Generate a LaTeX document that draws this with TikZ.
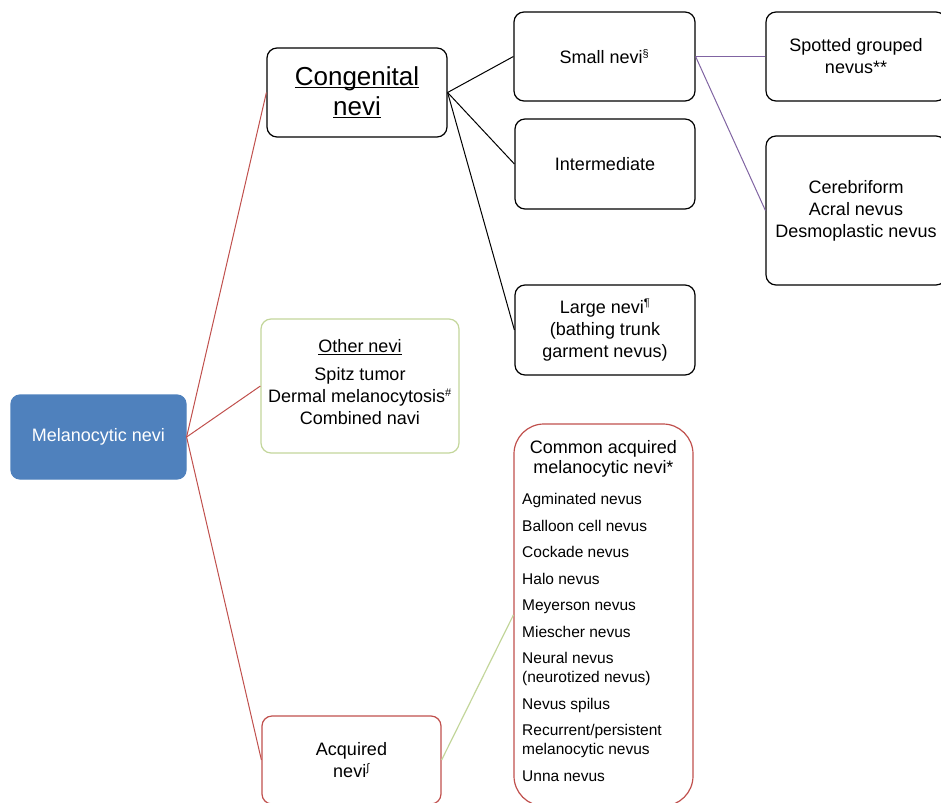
\documentclass[tikz,border=0pt]{standalone}
\usepackage{fontspec}
\setmainfont{Liberation Sans}
\definecolor{mblue}{HTML}{4F81BD}
\definecolor{mred}{HTML}{C0504D}
\definecolor{mgreen}{HTML}{C3D69B}
\definecolor{mpurple}{HTML}{8064A2}
\newcommand{\sps}[1]{\textsuperscript{\fontsize{11}{11}\selectfont #1}}
\newsavebox{\ulbox}
\newcommand{\myul}[3]{\sbox{\ulbox}{#3}\rlap{\rule[-#1]{\wd\ulbox}{#2}}\usebox{\ulbox}}
\begin{document}
\begin{tikzpicture}[x=1pt,y=-1pt,
  box/.style={draw=black, line width=1.2pt, rounded corners=10pt, align=center, inner sep=0pt,
    font=\fontsize{18}{22}\selectfont},
  plaintxt/.style={inner sep=0pt, align=center, font=\fontsize{18}{22}\selectfont},
  redline/.style={draw=mred, line width=1pt},
  blackline/.style={draw=black, line width=1pt},
  purpleline/.style={draw=mpurple, line width=1pt},
  greenline/.style={draw=mgreen, line width=1.2pt},
  listtxt/.style={inner sep=0pt, font=\fontsize{15.5}{19}\selectfont}
]
\useasboundingbox (0,0) rectangle (941,802);
\clip (0,0) rectangle (941,802);

% root
\node[box, draw=mblue, fill=mblue, text=white, rounded corners=9pt,
      minimum width=175pt, minimum height=84pt] (mel) at (98.5,437) {Melanocytic nevi};

% level 1
\node[box, minimum width=180pt, minimum height=89pt, font=\fontsize{26}{30}\selectfont]
  (cong) at (357,92.5) {\myul{3pt}{1.4pt}{Congenital}\\\myul{3pt}{1.4pt}{nevi}};
\node[box, draw=mgreen, minimum width=198pt, minimum height=134pt] (other) at (360,386) {};
\node[plaintxt] (othertext) at (360,382)
  {\myul{2.2pt}{1pt}{Other nevi}\\[6pt]Spitz tumor\\Dermal melanocytosis\sps{\#}\\Combined navi};
\node[box, draw=mred, minimum width=179pt, minimum height=88pt]
  (acq) at (351.5,760) {Acquired\\nevi\sps{∫}};

% level 2
\node[box, minimum width=181pt, minimum height=89pt] (small) at (604.5,56.5) {Small nevi\sps{§}};
\node[box, minimum width=180pt, minimum height=90pt] (inter) at (605,164) {Intermediate};
\node[box, minimum width=180pt, minimum height=90pt] (large) at (605,330)
  {Large nevi\sps{¶}\\(bathing trunk\\garment nevus)};
\node[box, draw=mred, rounded corners=30pt, minimum width=179pt, minimum height=382pt]
  (common) at (603.5,615) {};
\node[inner sep=0pt, align=center, font=\fontsize{18}{20}\selectfont]
  (commontitle) at (603.5,459) {Common acquired\\melanocytic nevi*};
\foreach \yy/\txt [count=\i] in {499/{Agminated nevus}, 526/{Balloon cell nevus}, 552/{Cockade nevus},
   579/{Halo nevus}, 605/{Meyerson nevus}, 632/{Miescher nevus}, 658/{Neural nevus},
   677/{(neurotized nevus)}, 704/{Nevus spilus}, 730/{Recurrent/persistent},
   749/{melanocytic nevus}, 776/{Unna nevus}}
  \node[listtxt, anchor=base west] (item\i) at (522,\yy+5.5) {\txt};

% level 3
\node[box, minimum width=180pt, minimum height=89pt] (spot) at (856,56.5) {Spotted grouped\\nevus**};
\node[box, minimum width=180pt, minimum height=149pt] (cere) at (856,210.5)
  {Cerebriform\\Acral nevus\\Desmoplastic nevus};

% connectors
\draw[redline] (mel.east) -- (cong.west);
\draw[redline] (mel.east) -- (other.west);
\draw[redline] (mel.east) -- (acq.west);
\draw[blackline] (cong.east) -- (small.west);
\draw[blackline] (cong.east) -- (inter.west);
\draw[blackline] (cong.east) -- (large.west);
\draw[purpleline] (small.east) -- (spot.west);
\draw[purpleline] (small.east) -- (cere.west);
\draw[greenline] (acq.east) -- (common.west);
\end{tikzpicture}
\end{document}
